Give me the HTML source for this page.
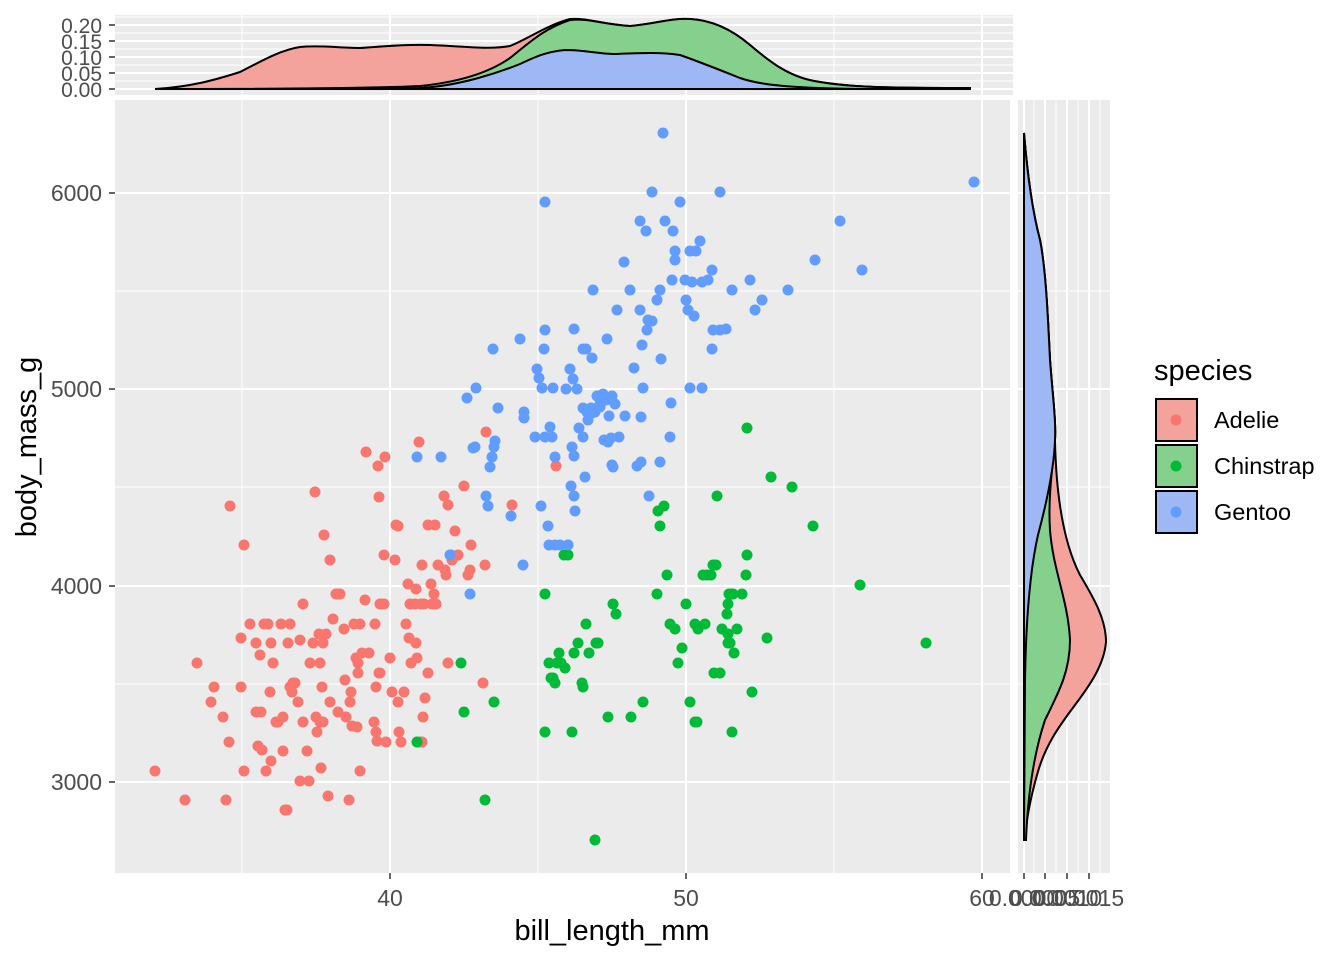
<!DOCTYPE html>
<html><head><meta charset="utf-8"><style>body{margin:0;background:#fff}svg{display:block;font-family:"Liberation Sans",Arial,sans-serif}</style></head>
<body>
<svg width="1344" height="960" xmlns="http://www.w3.org/2000/svg">
<rect x="115" y="100" width="895" height="773" fill="#ebebeb"/>
<g stroke="#fff" stroke-width="1">
<line x1="242" y1="100" x2="242" y2="873"/><line x1="538" y1="100" x2="538" y2="873"/><line x1="834" y1="100" x2="834" y2="873"/>
<line x1="115" y1="291" x2="1010" y2="291"/><line x1="115" y1="487" x2="1010" y2="487"/><line x1="115" y1="684" x2="1010" y2="684"/>
</g>
<g stroke="#fff" stroke-width="2">
<line x1="390" y1="100" x2="390" y2="873"/><line x1="686" y1="100" x2="686" y2="873"/><line x1="982" y1="100" x2="982" y2="873"/>
<line x1="115" y1="193" x2="1010" y2="193"/><line x1="115" y1="389" x2="1010" y2="389"/><line x1="115" y1="586" x2="1010" y2="586"/><line x1="115" y1="782" x2="1010" y2="782"/>
</g>
<g id="pts"></g>
<g stroke="#333" stroke-width="1.5"><line x1="390" y1="873" x2="390" y2="879"/><line x1="686" y1="873" x2="686" y2="879"/><line x1="982" y1="873" x2="982" y2="879"/>
<line x1="109" y1="193" x2="115" y2="193"/><line x1="109" y1="389" x2="115" y2="389"/><line x1="109" y1="586" x2="115" y2="586"/><line x1="109" y1="782" x2="115" y2="782"/></g>
<g fill="#4d4d4d" font-size="23" text-anchor="middle"><text x="390" y="906">40</text><text x="686" y="906">50</text><text x="982" y="906">60</text></g>
<g fill="#4d4d4d" font-size="23" text-anchor="end"><text x="102" y="201">6000</text><text x="102" y="397">5000</text><text x="102" y="594">4000</text><text x="102" y="790">3000</text></g>
<text x="612" y="940" font-size="29" text-anchor="middle">bill_length_mm</text>
<text x="0" y="0" font-size="29" text-anchor="middle" transform="translate(36,447) rotate(-90)">body_mass_g</text>
<rect x="115" y="15" width="898" height="80" fill="#ebebeb"/>
<g stroke="#fff"><line x1="115" y1="81" x2="1013" y2="81"/><line x1="115" y1="65" x2="1013" y2="65"/><line x1="115" y1="49" x2="1013" y2="49"/><line x1="115" y1="33" x2="1013" y2="33"/><line x1="115" y1="17" x2="1013" y2="17"/>
<line x1="242" y1="15" x2="242" y2="95"/><line x1="538" y1="15" x2="538" y2="95"/><line x1="834" y1="15" x2="834" y2="95"/></g>
<g stroke="#fff" stroke-width="2"><line x1="115" y1="89" x2="1013" y2="89"/><line x1="115" y1="73" x2="1013" y2="73"/><line x1="115" y1="57" x2="1013" y2="57"/><line x1="115" y1="41" x2="1013" y2="41"/><line x1="115" y1="25" x2="1013" y2="25"/>
<line x1="390" y1="15" x2="390" y2="95"/><line x1="686" y1="15" x2="686" y2="95"/><line x1="982" y1="15" x2="982" y2="95"/></g>
<path d="M155,89 C190,87 215,80 240,72 C260,62 280,50 300,47 C320,45 340,48 360,48 C380,47 400,44 430,45 C460,46 490,50 510,46 C530,38 545,26 570,19 C590,18 600,24 630,26 C655,24 670,18 690,19 C710,20 730,28 750,45 C770,62 790,78 820,82 C850,87 880,88 970,88 L970,89 Z" fill="#f4a29c" stroke="#000" stroke-width="2"/>
<path d="M155,89 C300,89 380,88 420,86 C460,82 490,72 510,58 C530,42 545,28 570,20 C590,18 600,24 630,26 C655,24 670,18 690,19 C710,20 730,28 750,45 C770,62 790,78 820,82 C850,87 880,88 970,88 L970,89 Z" fill="#86d08d" stroke="#000" stroke-width="2"/>
<path d="M155,89 C300,89 390,89 420,88 C460,86 500,72 520,64 C535,57 545,52 565,50 C585,50 600,54 615,54 C640,53 660,52 680,55 C700,62 720,70 740,78 C760,85 790,88 860,89 L970,89 Z" fill="#9db8f4" stroke="#000" stroke-width="2"/>
<g stroke="#333" stroke-width="1.5"><line x1="109" y1="89" x2="115" y2="89"/><line x1="109" y1="73" x2="115" y2="73"/><line x1="109" y1="57" x2="115" y2="57"/><line x1="109" y1="41" x2="115" y2="41"/><line x1="109" y1="25" x2="115" y2="25"/></g>
<g fill="#4d4d4d" font-size="21" text-anchor="end"><text x="102" y="97">0.00</text><text x="102" y="81">0.05</text><text x="102" y="65">0.10</text><text x="102" y="49">0.15</text><text x="102" y="33">0.20</text></g>
<rect x="1018" y="100" width="92" height="773" fill="#ebebeb"/>
<g stroke="#fff"><line x1="1034" y1="100" x2="1034" y2="873"/><line x1="1056" y1="100" x2="1056" y2="873"/><line x1="1078" y1="100" x2="1078" y2="873"/><line x1="1100" y1="100" x2="1100" y2="873"/>
<line x1="1018" y1="291" x2="1110" y2="291"/><line x1="1018" y1="487" x2="1110" y2="487"/><line x1="1018" y1="684" x2="1110" y2="684"/></g>
<g stroke="#fff" stroke-width="2"><line x1="1024" y1="100" x2="1024" y2="873"/><line x1="1045" y1="100" x2="1045" y2="873"/><line x1="1067" y1="100" x2="1067" y2="873"/><line x1="1089" y1="100" x2="1089" y2="873"/>
<line x1="1018" y1="193" x2="1110" y2="193"/><line x1="1018" y1="389" x2="1110" y2="389"/><line x1="1018" y1="586" x2="1110" y2="586"/><line x1="1018" y1="782" x2="1110" y2="782"/></g>
<path d="M1024,133 C1027,170 1032,210 1040,240 C1046,270 1048,320 1050,360 C1053,400 1056,420 1055,440 C1056,490 1062,540 1080,575 C1095,600 1106,620 1106,642 C1104,665 1090,685 1075,705 C1060,725 1045,745 1037,775 C1030,800 1026,820 1025,840 L1024,840 Z" fill="#f4a29c" stroke="#000" stroke-width="2"/>
<path d="M1024,133 C1027,170 1032,210 1040,240 C1046,270 1048,320 1050,360 C1053,400 1056,420 1055,440 C1052,470 1048,500 1050,530 C1053,570 1068,600 1070,640 C1070,670 1060,690 1045,720 C1035,750 1028,790 1026,840 L1024,840 Z" fill="#86d08d" stroke="#000" stroke-width="2"/>
<path d="M1024,133 C1027,170 1032,210 1040,240 C1046,270 1048,320 1050,360 C1053,400 1056,420 1055,440 C1054,470 1046,505 1038,535 C1030,570 1026,620 1025,680 L1024,840 Z" fill="#9db8f4" stroke="#000" stroke-width="2"/>
<g stroke="#333" stroke-width="1.5"><line x1="1024" y1="873" x2="1024" y2="879"/><line x1="1045" y1="873" x2="1045" y2="879"/><line x1="1067" y1="873" x2="1067" y2="879"/><line x1="1089" y1="873" x2="1089" y2="879"/></g>
<g fill="#4d4d4d" font-size="23" text-anchor="middle"><text x="1024" y="906">0.0000</text><text x="1045" y="906">0.0005</text><text x="1067" y="906">0.0010</text><text x="1089" y="906">0.0015</text></g>
<text x="1154" y="380" font-size="29">species</text>
<rect x="1156" y="399" width="41" height="42" fill="#f4a29c" stroke="#000" stroke-width="2"/><circle cx="1176" cy="420" r="5.5" fill="#f8766d"/>
<rect x="1156" y="445" width="41" height="42" fill="#86d08d" stroke="#000" stroke-width="2"/><circle cx="1176" cy="466" r="5.5" fill="#00ba38"/>
<rect x="1156" y="491" width="41" height="42" fill="#9db8f4" stroke="#000" stroke-width="2"/><circle cx="1176" cy="512" r="5.5" fill="#619cff"/>
<g font-size="23.5"><text x="1214" y="428">Adelie</text><text x="1214" y="474">Chinstrap</text><text x="1214" y="520">Gentoo</text></g>
</svg>
<script>
var R=[155,771,185,800,197,663,214,687,211,702,226,800,223,717,229,742,241,638,244,771,241,687,230,506,244,545,250,624,256,643,256,712,258,746,261,712,262,750,264,624,266,771,268,624,270,692,271,761,271,643,273,663,276,722,278,722,281,624,283,751,283,717,285,810,287,810,288,643,290,687,290,624,292,692,293,683,295,683,298,702,300,781,303,604,303,722,307,751,309,781,310,663,313,643,315,492,316,717,317,732,319,634,320,663,320,722,321,768,322,687,323,722,323,643,324,535,326,634,328,796,330,702,333,619,336,594,338,594,338,712,340,594,344,629,346,717,349,800,350,702,351,692,352,726,354,624,356,658,357,727,358,663,358,673,360,771,360,624,362,653,366,452,369,653,374,722,375,624,376,687,376,732,377,741,378,466,379,673,379,497,380,604,381,604,385,457,380,673,384,604,384,555,386,742,390,658,392,692,396,525,398,526,398,702,399,732,401,742,404,692,406,624,408,584,409,638,410,604,411,663,415,604,416,589,416,643,417,658,419,442,420,742,421,604,422,565,423,717,424,604,425,698,428,673,428,525,431,584,432,604,434,594,435,525,436,604,438,565,444,496,445,570,446,575,448,663,448,505,452,560,455,531,458,555,464,486,468,575,470,570,471,545,485,565,486,432,483,683,512,505,556,466,568,545,451,555,422,742,260,655,300,640,345,680,395,560,365,600,330,560];
var G=[417,742,461,663,464,712,485,800,494,702,545,732,545,594,549,663,551,678,553,678,555,683,557,663,559,653,561,663,565,668,568,555,572,732,574,653,578,643,582,683,583,687,586,624,589,653,596,643,598,643,608,717,613,604,616,614,631,717,643,702,657,594,658,511,660,526,664,506,667,575,670,624,675,629,678,663,682,648,686,604,690,702,697,722,695,624,698,629,703,575,705,624,707,575,711,575,713,565,714,673,716,565,717,496,720,673,722,629,727,614,728,634,728,604,728,643,729,594,731,594,733,594,737,629,742,594,746,575,747,555,747,428,752,692,767,638,771,477,792,487,813,526,860,585,926,643,595,840,564,555,732,732,734,653,730,643,695,722];
var B=[663,133,974,182,545,202,652,192,680,202,720,192,640,221,646,231,665,221,673,231,675,251,675,260,690,251,696,251,700,241,840,221,815,260,862,270,593,290,624,262,630,290,648,320,660,290,672,280,685,280,692,282,702,282,708,280,712,270,732,290,750,280,762,300,788,290,755,310,617,310,640,310,545,330,544,349,574,329,583,349,586,349,592,358,607,339,537,369,539,378,542,388,553,388,566,389,570,369,573,379,577,389,583,408,587,412,591,408,597,396,600,404,603,394,606,400,609,416,612,396,615,404,520,339,493,349,476,388,467,398,498,408,524,412,524,418,535,437,545,437,550,427,552,437,555,457,572,447,574,456,579,428,583,437,588,420,592,413,595,412,600,407,604,440,608,442,611,438,619,437,625,416,634,368,641,417,643,388,670,437,690,388,702,388,713,330,720,330,726,329,712,349,661,359,647,330,612,465,613,467,637,466,641,462,660,462,671,403,649,496,571,486,585,477,575,511,548,526,549,545,555,545,560,545,568,545,574,496,541,506,486,496,488,506,490,467,492,457,494,447,495,441,475,447,473,448,441,457,417,457,511,516,523,565,470,594,450,555,694,316,688,310,652,321,657,300,686,300,642,345];
var g=document.getElementById('pts'),s='';
function add(a,c){for(var i=0;i<a.length;i+=2)s+='<circle cx="'+a[i]+'" cy="'+a[i+1]+'" r="5.5" fill="'+c+'"/>';}
add(R,'#f8766d');add(G,'#00ba38');add(B,'#619cff');g.innerHTML=s;
</script>
</body></html>
